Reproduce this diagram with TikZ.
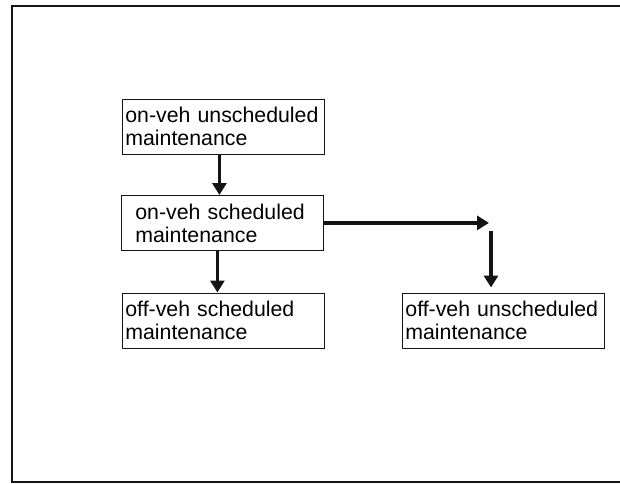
\documentclass[tikz,border=0pt]{standalone}
\usepackage{fontspec}
\setmainfont{Liberation Sans}
\usepackage{xcolor}
\usepackage{tikz}
\usetikzlibrary{arrows.meta, positioning}
\definecolor{ScanInk}{RGB}{20, 20, 20}

\begin{document}
\begin{tikzpicture}[
    x=1pt, y=-1pt,
    mbox/.style={
      draw=ScanInk, line width=0.8pt, anchor=north west,
      minimum width=202pt, minimum height=55pt, text width=196pt,
      inner xsep=3pt, inner ysep=0pt, align=left,
      font=\fontsize{21.3}{23}\selectfont
    },
    indent/.style={inner xsep=14pt, text width=174pt},
    flow/.style={draw=ScanInk, line width=3.2pt, -{Triangle[length=12pt, width=14pt]}}
  ]
    \useasboundingbox (0,0) rectangle (620,483);
    % outer frame, open on the right
    \draw[ScanInk, line width=2pt] (620,5.5) -- (12,5.5) -- (12,481.5) -- (620,481.5);

    \node[mbox] (onunsch) at (122,98.5) {\mbox{on-veh unscheduled}\\maintenance};
    \node[mbox, indent] (onsch) at (121,195) {\mbox{on-veh scheduled}\\maintenance};
    \node[mbox] (offsch) at (122,292.5) {\mbox{off-veh scheduled}\\maintenance};
    \node[mbox] (offunsch) at (402,292.5) {\mbox{off-veh unscheduled}\\maintenance};

    \coordinate (turn) at (489,222.5);
    \coordinate (drop) at (491,231);

    \draw[flow] ([xshift=-4pt]onunsch.south) -- ([xshift=-4pt]onunsch.south |- onsch.north);
    \draw[flow] ([xshift=-5pt]onsch.south) -- ([xshift=-5pt]onsch.south |- offsch.north);
    \draw[flow] (onsch.east) -- (onsch.east -| turn);
    \draw[flow, shorten >=5pt] (drop) -- (drop |- offunsch.north);
  \end{tikzpicture}
\end{document}
